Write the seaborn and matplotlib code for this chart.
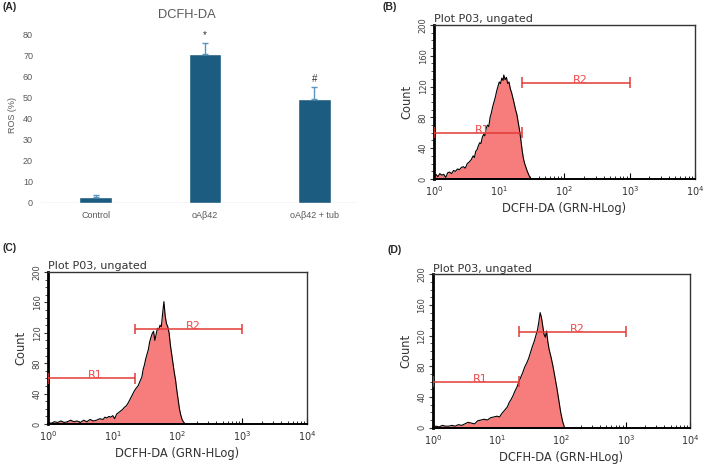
#!/usr/bin/env python3
"""DCFH-DA ROS figure: (A) bar chart of ROS (%), (B-D) flow cytometry histograms."""

import numpy as np
import matplotlib
matplotlib.use("Agg")
import matplotlib.pyplot as plt
from matplotlib.ticker import LogLocator, MultipleLocator, NullFormatter
import seaborn as sns

# --- Panel A: ROS (%) per group ---
GROUPS = ["Control", "oAβ42", "oAβ42 + tub"]
ROS_MEAN = [3.0, 70.8, 49.7]
ROS_ERR = [0.8, 5.2, 5.4]
SIG_MARKS = ["", "*", "#"]
ROS_TICKS = [0, 10, 20, 30, 40, 50, 60, 70, 80]

# --- Panels B-D: histograms, x = log10(GRN-HLog), y = count ---
B_LOG = [0.00, 0.03, 0.06, 0.09, 0.12, 0.15, 0.18, 0.21, 0.24, 0.27, 0.30, 0.33,
         0.36, 0.39, 0.42, 0.45, 0.48, 0.51, 0.54, 0.57, 0.60, 0.62, 0.64, 0.66,
         0.68, 0.70, 0.72, 0.74, 0.76, 0.78, 0.80, 0.82, 0.84, 0.86, 0.88, 0.90,
         0.92, 0.94, 0.96, 0.98, 1.00, 1.02, 1.04, 1.06, 1.07, 1.09, 1.11, 1.13,
         1.15, 1.17, 1.19, 1.21, 1.23, 1.25, 1.27, 1.29, 1.31, 1.33, 1.35, 1.37,
         1.39, 1.41, 1.43, 1.45, 1.47, 1.49]
B_COUNT = [4, 6, 3, 7, 5, 6, 2, 8, 9, 7, 11, 10,
           13, 12, 15, 16, 14, 20, 22, 25, 30, 28, 36, 38,
           43, 47, 46, 54, 58, 56, 66, 70, 68, 80, 86, 94,
           100, 106, 114, 120, 126, 124, 131, 128, 135, 129, 132, 124,
           126, 117, 112, 105, 98, 90, 84, 74, 64, 52, 38, 27,
           20, 15, 10, 6, 2, 0]

C_LOG = [0.00, 0.05, 0.10, 0.15, 0.20, 0.25, 0.30, 0.35, 0.40, 0.45, 0.50, 0.55,
         0.60, 0.65, 0.70, 0.75, 0.80, 0.85, 0.88, 0.91, 0.94, 0.97, 1.00, 1.03,
         1.06, 1.09, 1.12, 1.15, 1.18, 1.21, 1.24, 1.27, 1.30, 1.33, 1.36, 1.39,
         1.42, 1.45, 1.47, 1.49, 1.51, 1.53, 1.55, 1.57, 1.59, 1.61, 1.63, 1.65,
         1.67, 1.69, 1.71, 1.73, 1.75, 1.77, 1.79, 1.81, 1.83, 1.85, 1.87, 1.89,
         1.91, 1.93, 1.95, 1.97, 1.99, 2.01, 2.03, 2.05, 2.07, 2.09, 2.12]
C_COUNT = [2, 1, 3, 2, 4, 2, 3, 5, 3, 4, 2, 5,
           3, 6, 4, 5, 7, 6, 9, 8, 10, 9, 11, 7,
           13, 15, 17, 19, 22, 24, 28, 33, 38, 43, 47, 50,
           56, 62, 72, 78, 86, 92, 98, 108, 114, 119, 122, 110,
           118, 126, 124, 130, 128, 145, 161, 142, 132, 128, 120, 104,
           92, 80, 68, 58, 44, 32, 20, 12, 6, 3, 0]

D_LOG = [0.00, 0.05, 0.10, 0.15, 0.20, 0.25, 0.30, 0.35, 0.40, 0.45, 0.50, 0.55,
         0.60, 0.65, 0.70, 0.75, 0.80, 0.85, 0.90, 0.95, 1.00, 1.04, 1.07, 1.10,
         1.13, 1.16, 1.19, 1.22, 1.25, 1.28, 1.31, 1.34, 1.37, 1.40, 1.43, 1.46,
         1.49, 1.52, 1.55, 1.58, 1.61, 1.63, 1.65, 1.67, 1.69, 1.71, 1.73, 1.75,
         1.77, 1.79, 1.81, 1.84, 1.87, 1.90, 1.93, 1.96, 1.99, 2.02, 2.05]
D_COUNT = [1, 2, 1, 3, 2, 2, 3, 2, 4, 3, 5, 7,
           6, 5, 9, 10, 11, 10, 13, 14, 15, 14, 18, 21,
           24, 27, 33, 37, 42, 48, 53, 60, 66, 72, 79, 84,
           90, 98, 106, 113, 122, 128, 138, 150, 144, 133, 122, 118,
           126, 112, 102, 92, 80, 66, 52, 36, 20, 8, 0]

# gates: name, start, end, count level
GATES = [("R1", 1, 22, 60), ("R2", 22, 1000, 125)]
GATE_LABEL_X = {"R1": 5.4, "R2": 178}
HIST_YTICKS = [0, 40, 80, 120, 160, 200]
DECADES = [1, 10, 100, 1000, 10000]

BAR = "#1b5c80"
ERR = "#5b95bd"
GRAY = "#595959"
FILL = "#f77c7c"
RED = "#e23a36"

sns.set_style("white")
plt.rcParams["font.family"] = ["DejaVu Sans"]
plt.rcParams["mathtext.fontset"] = "dejavusans"

fig = plt.figure(figsize=(7.09, 4.66), dpi=100)


def bar_panel(ax):
    sns.barplot(x=GROUPS, y=ROS_MEAN, color=BAR, saturation=1, width=0.3,
                errorbar=None, ax=ax)
    ax.errorbar(range(len(GROUPS)), ROS_MEAN, yerr=[[0] * len(GROUPS), ROS_ERR],
                fmt="none", ecolor=ERR, elinewidth=1, capsize=2.5, capthick=1)
    for i, (m, e, s) in enumerate(zip(ROS_MEAN, ROS_ERR, SIG_MARKS)):
        if s:
            ax.text(i, m + e + 1.5, s, ha="center", va="bottom", fontsize=7,
                    color="#333333", family="Liberation Sans")
    ax.axhline(0, color="#d9d9d9", lw=1, zorder=0)
    ax.set_xlim(-0.51, 2.40)
    ax.set_ylim(0, 80)
    ax.set_yticks(ROS_TICKS)
    sns.despine(ax=ax, left=True, bottom=True)
    ax.tick_params(length=0, labelsize=6.5, labelcolor=GRAY)
    ax.tick_params(axis="y", pad=5)
    ax.tick_params(axis="x", pad=5.5)
    for t in ax.get_xticklabels() + ax.get_yticklabels():
        t.set_family("Liberation Sans")
    ax.set_xlabel("")
    ax.set_ylabel("")


def hist_panel(ax, logx, counts):
    ax.set_xscale("log")
    x = np.power(10.0, logx)
    ax.fill_between(x, counts, 0, color=FILL, lw=0, zorder=1)
    sns.lineplot(x=x, y=counts, ax=ax, color="black", lw=0.8, sort=False,
                 estimator=None, zorder=2)
    for name, x0, x1, y in GATES:
        ax.hlines(y, x0, x1, color=RED, lw=1.1, zorder=3)
        ax.vlines([x0, x1], y - 7, y + 7, color=RED, lw=1.1, zorder=3)
        ax.text(GATE_LABEL_X[name], y - 2.5, name, ha="center", va="bottom",
                fontsize=8, color="#f04848", zorder=3)
    ax.set_xlim(1, 10000)
    ax.set_ylim(0, 200)
    ax.set_xticks(DECADES)
    ax.set_xticklabels([r"$10^{%d}$" % k for k in range(len(DECADES))])
    ax.xaxis.set_minor_locator(LogLocator(base=10, subs=range(2, 10)))
    ax.xaxis.set_minor_formatter(NullFormatter())
    ax.set_yticks(HIST_YTICKS)
    ax.set_yticklabels([str(v) for v in HIST_YTICKS], rotation=90, va="center")
    ax.yaxis.set_minor_locator(MultipleLocator(10))
    ax.tick_params(axis="x", which="both", bottom=True, top=False)
    ax.tick_params(axis="y", which="both", left=True, right=False)
    ax.tick_params(axis="x", which="major", direction="in", length=4, width=0.8,
                   pad=4, labelsize=7, labelcolor="#333333", color="black")
    ax.tick_params(axis="x", which="minor", direction="in", length=2.5, width=0.6,
                   color="black")
    ax.tick_params(axis="y", which="major", direction="out", length=3, width=0.8,
                   pad=1.5, labelsize=6, labelcolor="#444444", color="#333333")
    ax.tick_params(axis="y", which="minor", direction="out", length=2, width=0.6,
                   color="#333333")
    for side in ["top", "right"]:
        ax.spines[side].set_linewidth(1)
        ax.spines[side].set_color("#333333")
    ax.spines["bottom"].set_linewidth(1.4)
    ax.spines["bottom"].set_color("black")
    ax.spines["left"].set_linewidth(2)
    ax.spines["left"].set_color("black")
    ax.set_title("Plot P03, ungated", loc="left", pad=2, fontsize=8, color="#333333")
    ax.set_xlabel("DCFH-DA (GRN-HLog)", fontsize=8.3, labelpad=2.5, color="#333333")
    ax.set_ylabel("Count", fontsize=8.3, labelpad=4, color="#333333")


ax_a = fig.add_axes([0.0564, 0.5644, 0.4485, 0.3605])
bar_panel(ax_a)
fig.text(0.264, 0.968, "DCFH-DA", ha="center", va="center", fontsize=9.3,
         color=GRAY, family="Liberation Sans")
fig.text(0.017, 0.753, "ROS (%)", ha="center", va="center", rotation=90,
         fontsize=6.5, color=GRAY, family="Liberation Sans")

ax_b = fig.add_axes([0.6121, 0.6159, 0.3681, 0.3305])
hist_panel(ax_b, B_LOG, B_COUNT)
ax_c = fig.add_axes([0.0677, 0.0901, 0.3653, 0.3262])
hist_panel(ax_c, C_LOG, C_COUNT)
ax_d = fig.add_axes([0.6103, 0.0822, 0.3629, 0.3292])
hist_panel(ax_d, D_LOG, D_COUNT)

for lbl, x, y in [("(A)", 0.004, 0.985), ("(B)", 0.540, 0.985),
                  ("(C)", 0.004, 0.468), ("(D)", 0.546, 0.4635)]:
    fig.text(x, y, lbl, ha="left", va="center", fontsize=7.5, weight="bold",
             family="Liberation Sans")

fig.savefig("out.png", dpi=100)
